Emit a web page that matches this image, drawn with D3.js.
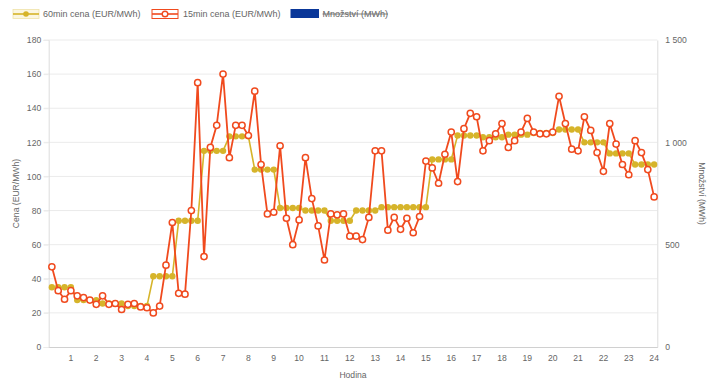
<!DOCTYPE html>
<html>
<head>
<meta charset="utf-8">
<script src="https://cdn.jsdelivr.net/npm/d3@7"></script>
<style>
  html, body { margin: 0; padding: 0; background: #fff; }
  svg { display: block; font-family: "Liberation Sans", Arial, Helvetica, sans-serif; }
</style>
</head>
<body>
<svg id="chart" width="720" height="382"></svg>
<script>
// ---- DATA ----
const hourLabels = ["1","2","3","4","5","6","7","8","9","10","11","12","13","14","15","16","17","18","19","20","21","22","23","24"];
const quarterCount = 96;
const price60 = [
  35, 35, 35, 35,
  27.5, 27.5, 27.5, 27.5,
  25.5, 25.5, 25.5, 25.5,
  24, 24, 24, 24,
  41.5, 41.5, 41.5, 41.5,
  74, 74, 74, 74,
  115, 115, 115, 115,
  123.5, 123.5, 123.5, 123.5,
  104, 104, 104, 104,
  81.5, 81.5, 81.5, 81.5,
  80, 80, 80, 80,
  74, 74, 74, 74,
  80, 80, 80, 80,
  82, 82, 82, 82,
  82, 82, 82, 82,
  110, 110, 110, 110,
  124, 124, 124, 124,
  123, 123, 123, 123,
  124.5, 124.5, 124.5, 124.5,
  125.5, 125.5, 125.5, 125.5,
  127.5, 127.5, 127.5, 127.5,
  120, 120, 120, 120,
  113.5, 113.5, 113.5, 113.5,
  107, 107, 107, 107
];
const price15 = [
  47, 33, 28, 33,
  30, 29, 27.5, 25,
  30, 25, 25.5, 22,
  25, 25.5, 23.5, 23,
  20, 24, 48, 73,
  31.5, 31, 80, 155,
  53, 117, 130, 160,
  111, 130, 130, 124,
  150, 107, 78, 79,
  118, 75.5, 60, 74.5,
  111, 87, 71, 51,
  78, 77.5, 78, 65,
  65, 63, 76, 115,
  115, 68.5, 76, 69,
  75.5, 67, 76.5, 109,
  105, 96, 113, 126,
  97, 128, 137, 135,
  115, 121, 125, 131,
  117, 121, 126, 134,
  126, 125, 125, 126,
  147, 131, 116, 115,
  135, 127, 114, 103,
  131, 119, 107, 101,
  121, 114, 104, 88
];
const leftTicks = [0, 20, 40, 60, 80, 100, 120, 140, 160, 180];
const rightTicks = [0, 500, 1000, 1500];
const seriesNames = ["60min cena (EUR/MWh)", "15min cena (EUR/MWh)", "Množství (MWh)"];
const axisTitles = { x: "Hodina", yLeft: "Cena (EUR/MWh)", yRight: "Množství (MWh)" };

// ---- STYLE ----
const C60 = "#d6b42a", C15 = "#f04a1e", CQ = "#0a3799";
const textCol = "#666", gridCol = "#ebebeb", axisCol = "#dcdcdc";
const L = 48.7, R = 657.3, T = 40, B = 347;

const svg = d3.select("#chart");
const idx = d3.range(quarterCount);
const x = d3.scaleBand().domain(idx).range([L, R]);
const cx = i => x(i) + x.bandwidth() / 2;
const y = d3.scaleLinear().domain([0, 180]).range([B, T]);
const yR = d3.scaleLinear().domain([0, 1500]).range([B, T]);

// grid
svg.append("g").selectAll("line").data(leftTicks.filter(d => d > 0)).join("line")
  .attr("x1", L - 5).attr("x2", R).attr("y1", d => y(d)).attr("y2", d => y(d))
  .attr("stroke", gridCol).attr("stroke-width", 1);

// left axis
const gl = svg.append("g").attr("transform", `translate(${L},0)`)
  .call(d3.axisLeft(y).tickValues(leftTicks).tickSize(5).tickPadding(2.5));
gl.select(".domain").attr("stroke", axisCol);
gl.selectAll(".tick line").attr("stroke", gridCol);
gl.selectAll("text").attr("fill", textCol).style("font-size", "8.6px");

// right axis
const gr = svg.append("g").attr("transform", `translate(${R},0)`)
  .call(d3.axisRight(yR).tickValues(rightTicks).tickSize(0).tickPadding(8)
    .tickFormat(d => d3.format(",")(d).replace(/,/g, " ")));
gr.select(".domain").attr("stroke", axisCol);
gr.selectAll("text").attr("fill", textCol).style("font-size", "8.6px");

// bottom axis
const hourTickIdx = hourLabels.map((h, k) => k * 4 + 3);
const gb = svg.append("g").attr("transform", `translate(0,${B})`)
  .call(d3.axisBottom(x).tickValues(hourTickIdx).tickSize(0).tickPadding(8)
    .tickFormat(i => hourLabels[(i - 3) / 4]));
gb.select(".domain").attr("stroke", "#d0d0d0");
gb.selectAll("text").attr("fill", textCol).style("font-size", "8.6px");

// axis titles
svg.append("text").attr("x", (L + R) / 2).attr("y", 378).attr("text-anchor", "middle")
  .attr("fill", textCol).style("font-size", "8.6px").text(axisTitles.x);
svg.append("text").attr("transform", `translate(19,${(T + B) / 2}) rotate(-90)`)
  .attr("text-anchor", "middle").attr("fill", textCol).style("font-size", "8.6px").text(axisTitles.yLeft);
svg.append("text").attr("transform", `translate(699,${(T + B) / 2}) rotate(90)`)
  .attr("text-anchor", "middle").attr("fill", textCol).style("font-size", "8.6px").text(axisTitles.yRight);

// lines
const line = d3.line().x((d, i) => cx(i)).y(d => y(d));
svg.append("path").datum(price60).attr("d", line).attr("fill", "none")
  .attr("stroke", C60).attr("stroke-width", 1.6);
svg.append("g").selectAll("circle").data(price60).join("circle")
  .attr("cx", (d, i) => cx(i)).attr("cy", d => y(d)).attr("r", 3.2).attr("fill", C60);

svg.append("path").datum(price15).attr("d", line).attr("fill", "none")
  .attr("stroke", C15).attr("stroke-width", 1.8);
svg.append("g").selectAll("circle").data(price15).join("circle")
  .attr("cx", (d, i) => cx(i)).attr("cy", d => y(d)).attr("r", 3.1)
  .attr("fill", "#fff").attr("stroke", C15).attr("stroke-width", 1.5);

// legend
const lg = svg.append("g");
const ly = 14;
// item 1
lg.append("rect").attr("x", 13).attr("y", 9.5).attr("width", 26).attr("height", 9)
  .attr("fill", "#fbf6e0").attr("stroke", "#efe3a8").attr("stroke-width", 0.8);
lg.append("line").attr("x1", 13).attr("x2", 39).attr("y1", ly).attr("y2", ly).attr("stroke", C60).attr("stroke-width", 1.6);
lg.append("circle").attr("cx", 26).attr("cy", ly).attr("r", 2.8).attr("fill", C60);
lg.append("text").attr("x", 43).attr("y", ly + 3.2).attr("fill", textCol).style("font-size", "9px").text(seriesNames[0]);
// item 2
lg.append("rect").attr("x", 152).attr("y", 9.5).attr("width", 26).attr("height", 9)
  .attr("fill", "#fff").attr("stroke", C15).attr("stroke-width", 1);
lg.append("line").attr("x1", 152).attr("x2", 178).attr("y1", ly).attr("y2", ly).attr("stroke", C15).attr("stroke-width", 1.6);
lg.append("circle").attr("cx", 165).attr("cy", ly).attr("r", 2.8).attr("fill", "#fff").attr("stroke", C15).attr("stroke-width", 1.4);
lg.append("text").attr("x", 183).attr("y", ly + 3.2).attr("fill", textCol).style("font-size", "9px").text(seriesNames[1]);
// item 3 (hidden dataset)
lg.append("rect").attr("x", 290.5).attr("y", 9).attr("width", 28.5).attr("height", 9).attr("fill", CQ);
const t3 = lg.append("text").attr("x", 322.5).attr("y", ly + 3.2).attr("fill", textCol)
  .style("font-size", "9px").text(seriesNames[2]);
const bb = t3.node().getBBox();
lg.append("line").attr("x1", bb.x).attr("x2", bb.x + bb.width).attr("y1", ly).attr("y2", ly)
  .attr("stroke", textCol).attr("stroke-width", 0.8);
</script>
</body>
</html>
